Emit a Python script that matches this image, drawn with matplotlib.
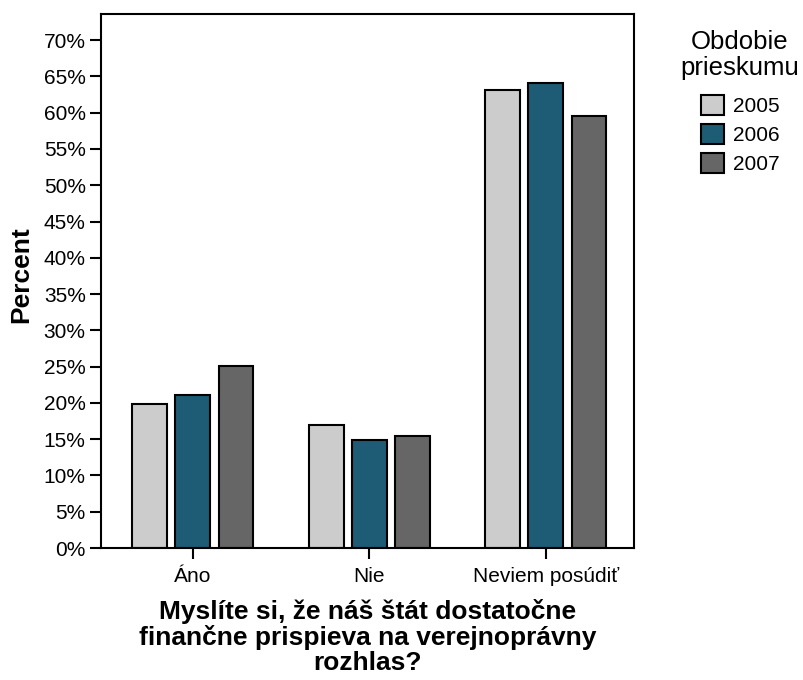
import matplotlib
matplotlib.use("Agg")
import matplotlib.pyplot as plt
import numpy as np
from matplotlib.ticker import PercentFormatter

plt.rcParams['font.family'] = ['Liberation Sans', 'DejaVu Sans']

categories = ["Áno", "Nie", "Neviem posúdiť"]
years = ["2005", "2006", "2007"]
values_2005 = [19.8, 16.9, 63.1]
values_2006 = [21.1, 14.9, 64.1]
values_2007 = [25.1, 15.4, 59.5]
series = [values_2005, values_2006, values_2007]
colors = ["#cccccc", "#1d5c74", "#666666"]

fig = plt.figure(figsize=(8.04, 6.8), dpi=100)
ax = fig.add_axes([101/804, 1-548/680, (634-101)/804, (548-14)/680])

x = np.arange(len(categories))
width = 0.198
step = 0.244
for i, (vals, c, yr) in enumerate(zip(series, colors, years)):
    ax.bar(x + (i-1)*step, vals, width, color=c, edgecolor='black',
           linewidth=1.5, label=yr, zorder=2)

ax.set_xlim(-0.521, 2.499)
ax.set_ylim(0, 73.6)
ax.set_yticks(np.arange(0, 71, 5))
ax.yaxis.set_major_formatter(PercentFormatter(decimals=0))
ax.set_xticks(x)
ax.set_xticklabels(categories)
ax.tick_params(axis='both', direction='out', length=8, width=1.5, labelsize=15, pad=3)
ax.tick_params(axis='x', pad=6)
for s in ax.spines.values():
    s.set_linewidth(1.5)

ax.set_ylabel("Percent", fontsize=19, fontweight='bold')
ax.yaxis.label.set_va('center')
ax.yaxis.set_label_coords((21-101)/533, (548-275)/534)
ax.set_xlabel("Myslíte si, že náš štát dostatočne\nfinančne prispieva na verejnoprávny\nrozhlas?",
              fontsize=19, fontweight='bold', labelpad=9, linespacing=1.05)

fig.text(740/804, 1-55/680, "Obdobie\nprieskumu", ha='center', va='center',
         fontsize=18.5, linespacing=1.15, multialignment='center')
leg = fig.legend(loc='upper center', bbox_to_anchor=(740/804, 1-80/680), frameon=False,
                 fontsize=15, handlelength=1.13, handleheight=1.13, handletextpad=0.4,
                 labelspacing=0.37, borderpad=0.2)

fig.savefig("out.png", dpi=100)
